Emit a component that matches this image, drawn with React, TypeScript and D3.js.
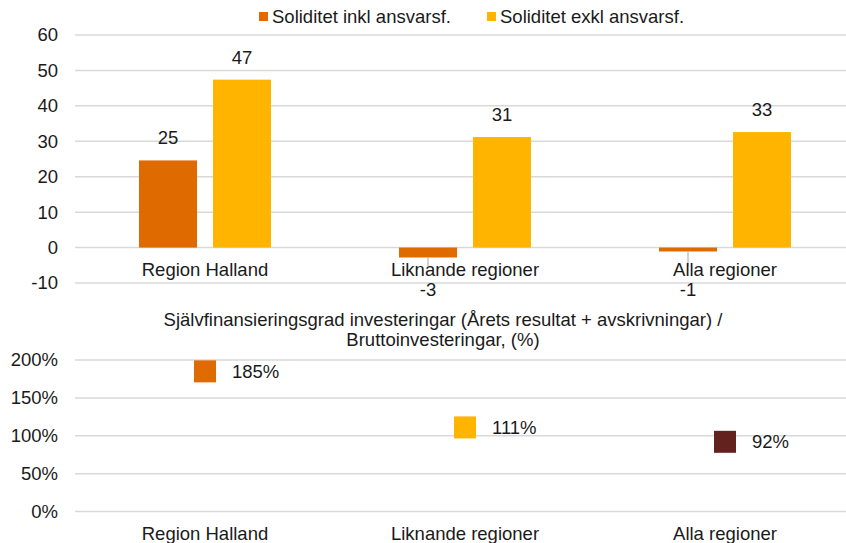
import React, { useEffect, useRef } from "react";
import { select, scaleBand, scaleLinear } from "d3";

const categories = ["Region Halland", "Liknande regioner", "Alla regioner"];
const seriesNames = ["Soliditet inkl ansvarsf.", "Soliditet exkl ansvarsf."];
const inklValues = [24.6, -2.8, -1.1];
const exklValues = [47.4, 31.2, 32.6];
const inklLabels = ["25", "-3", "-1"];
const exklLabels = ["47", "31", "33"];
const topTicks = [-10, 0, 10, 20, 30, 40, 50, 60];

const selfFinTitle = [
  "Självfinansieringsgrad investeringar (Årets resultat + avskrivningar) /",
  "Bruttoinvesteringar, (%)",
];
const selfFinValues = [1.85, 1.11, 0.92];
const selfFinLabels = ["185%", "111%", "92%"];
const bottomTicks = [0, 0.5, 1, 1.5, 2];

const COLORS = ["#de6a00", "#ffb500", "#64221f"];
const GRID = "#d9d9d9";
const TEXT = "#1a1a1a";
const FONT = "'Liberation Sans', Arial, sans-serif";
const FS = 18.5;

function App() {
  const svgRef = useRef<SVGSVGElement>(null);

  useEffect(() => {
    const svg = select(svgRef.current);
    svg.selectAll("*").remove();

    const WIDTH = 846;
    const HEIGHT = 543;
    svg.attr("width", WIDTH).attr("height", HEIGHT).style("font-family", FONT);

    const xScale = scaleBand<string>().domain(categories).range([75, 855]);
    const inner = scaleBand<string>()
      .domain(seriesNames)
      .range([0, xScale.bandwidth()])
      .paddingInner(0.216)
      .paddingOuter(0.865);

    // ---- top chart: soliditet
    const yTop = scaleLinear().domain([-10, 60]).range([283, 35]);
    const top = svg.append("g");

    top
      .selectAll(".grid")
      .data(topTicks)
      .join("line")
      .attr("x1", 75)
      .attr("x2", WIDTH)
      .attr("y1", (d) => yTop(d))
      .attr("y2", (d) => yTop(d))
      .attr("stroke", GRID)
      .attr("stroke-width", 1.5);

    top
      .selectAll(".ytick")
      .data(topTicks)
      .join("text")
      .text((d) => d)
      .attr("x", 58)
      .attr("y", (d) => yTop(d))
      .attr("dy", "0.35em")
      .attr("text-anchor", "end")
      .attr("font-size", FS)
      .attr("fill", TEXT);

    const rows = categories.map((c, i) => [
      { cat: c, s: seriesNames[0], v: inklValues[i], label: inklLabels[i], color: COLORS[0] },
      { cat: c, s: seriesNames[1], v: exklValues[i], label: exklLabels[i], color: COLORS[1] },
    ]).flat();

    top
      .selectAll(".bar")
      .data(rows)
      .join("rect")
      .attr("x", (d) => xScale(d.cat)! + inner(d.s)!)
      .attr("width", inner.bandwidth())
      .attr("y", (d) => yTop(Math.max(0, d.v)))
      .attr("height", (d) => Math.abs(yTop(d.v) - yTop(0)))
      .attr("fill", (d) => d.color);

    // leader lines for the moved negative labels
    top
      .selectAll(".leader")
      .data(rows.filter((d) => d.v < 0))
      .join("line")
      .attr("x1", (d) => xScale(d.cat)! + inner(d.s)! + inner.bandwidth() / 2)
      .attr("x2", (d) => xScale(d.cat)! + inner(d.s)! + inner.bandwidth() / 2)
      .attr("y1", (d) => yTop(d.v))
      .attr("y2", 266)
      .attr("stroke", "#a6a6a6")
      .attr("stroke-width", 1);

    top
      .selectAll(".label")
      .data(rows)
      .join("text")
      .text((d) => d.label)
      .attr("x", (d) => xScale(d.cat)! + inner(d.s)! + inner.bandwidth() / 2)
      .attr("y", (d) => (d.v >= 0 ? yTop(d.v) - 16 : 296))
      .attr("text-anchor", "middle")
      .attr("font-size", FS)
      .attr("fill", TEXT);

    top
      .selectAll(".cat")
      .data(categories)
      .join("text")
      .text((d) => d)
      .attr("x", (d) => xScale(d)! + xScale.bandwidth() / 2)
      .attr("y", 276)
      .attr("text-anchor", "middle")
      .attr("font-size", FS)
      .attr("fill", TEXT);

    // legend
    const legendX = [259, 487];
    const legend = top
      .selectAll(".legend")
      .data(seriesNames)
      .join("g")
      .attr("transform", (_, i) => `translate(${legendX[i]}, 0)`);
    legend
      .append("rect")
      .attr("y", 12)
      .attr("width", 9)
      .attr("height", 9)
      .attr("fill", (_, i) => COLORS[i]);
    legend
      .append("text")
      .text((d) => d)
      .attr("x", 13)
      .attr("y", 22.5)
      .attr("font-size", FS)
      .attr("fill", TEXT);

    // ---- bottom chart: självfinansieringsgrad
    const yBot = scaleLinear().domain([0, 2]).range([511.5, 360]);
    const bot = svg.append("g");

    bot
      .selectAll(".title")
      .data(selfFinTitle)
      .join("text")
      .text((d) => d)
      .attr("x", 443)
      .attr("y", (_, i) => 326 + i * 20)
      .attr("text-anchor", "middle")
      .attr("font-size", FS)
      .attr("fill", TEXT);

    bot
      .selectAll(".grid")
      .data(bottomTicks)
      .join("line")
      .attr("x1", 75)
      .attr("x2", WIDTH)
      .attr("y1", (d) => yBot(d))
      .attr("y2", (d) => yBot(d))
      .attr("stroke", GRID)
      .attr("stroke-width", 1.5);

    bot
      .selectAll(".ytick")
      .data(bottomTicks)
      .join("text")
      .text((d) => `${Math.round(d * 100)}%`)
      .attr("x", 58)
      .attr("y", (d) => yBot(d))
      .attr("dy", "0.35em")
      .attr("text-anchor", "end")
      .attr("font-size", FS)
      .attr("fill", TEXT);

    const MARK = 22;
    bot
      .selectAll(".mark")
      .data(selfFinValues)
      .join("rect")
      .attr("x", (_, i) => xScale(categories[i])! + xScale.bandwidth() / 2 - MARK / 2)
      .attr("y", (d) => yBot(d) - MARK / 2)
      .attr("width", MARK)
      .attr("height", MARK)
      .attr("fill", (_, i) => COLORS[i]);

    bot
      .selectAll(".mlabel")
      .data(selfFinValues)
      .join("text")
      .text((_, i) => selfFinLabels[i])
      .attr("x", (_, i) => xScale(categories[i])! + xScale.bandwidth() / 2 + 27)
      .attr("y", (d) => yBot(d))
      .attr("dy", "0.35em")
      .attr("font-size", FS)
      .attr("fill", TEXT);

    bot
      .selectAll(".cat")
      .data(categories)
      .join("text")
      .text((d) => d)
      .attr("x", (d) => xScale(d)! + xScale.bandwidth() / 2)
      .attr("y", 540)
      .attr("text-anchor", "middle")
      .attr("font-size", FS)
      .attr("fill", TEXT);
  }, []);

  return (
    <div style={{ position: "absolute", left: 0, top: 0 }}>
      <svg ref={svgRef}></svg>
    </div>
  );
}

export default App;
